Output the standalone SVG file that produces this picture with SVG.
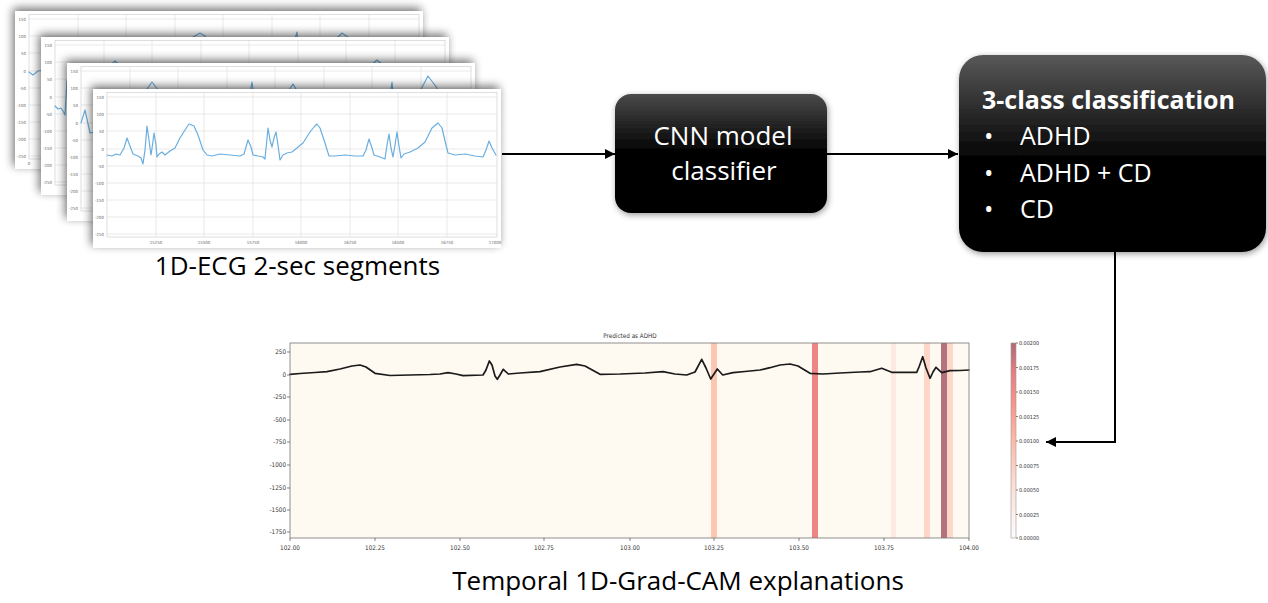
<svg xmlns="http://www.w3.org/2000/svg" xmlns:xlink="http://www.w3.org/1999/xlink" width="1268" height="603" viewBox="0 0 1268 603">
<style>
.cap{font-family:"Open Sans","Liberation Sans",sans-serif;font-size:26px;fill:#000}
.wt{font-family:"Open Sans","Liberation Sans",sans-serif;font-size:25px;fill:#fff}
.wtc{font-family:"Open Sans","Liberation Sans",sans-serif;font-size:26px;fill:#fff;text-anchor:middle}
.tiny{font-family:"DejaVu Sans Condensed","DejaVu Sans","Liberation Sans",sans-serif;font-size:4.3px;fill:#666}
.tinyr{font-family:"DejaVu Sans Condensed","DejaVu Sans","Liberation Sans",sans-serif;font-size:4.3px;fill:#666;text-anchor:end}
.mpl{font-family:"DejaVu Sans Condensed","DejaVu Sans","Liberation Sans",sans-serif;font-size:6.3px;fill:#333}
.mplr{font-family:"DejaVu Sans Condensed","DejaVu Sans","Liberation Sans",sans-serif;font-size:6.3px;fill:#333;text-anchor:end}
.mplc{font-family:"DejaVu Sans Condensed","DejaVu Sans","Liberation Sans",sans-serif;font-size:6.3px;fill:#333;text-anchor:middle}
.cb{font-family:"DejaVu Sans Condensed","DejaVu Sans","Liberation Sans",sans-serif;font-size:5.4px;fill:#333}
.card{fill:#fff;filter:url(#cshadow)}
.grid{stroke:#e3e3e3;stroke-width:0.8;fill:none}
.frame{stroke:#d6d6d6;stroke-width:0.8;fill:none}
.ecgb{fill:none;stroke:#6aaee0;stroke-width:1.2;stroke-linejoin:round;stroke-linecap:round}
.ecgk{fill:none;stroke:#1a1a1a;stroke-width:1.7;stroke-linejoin:round;stroke-linecap:round}
.conn{fill:none;stroke:#000;stroke-width:2}
.tick{stroke:#333;stroke-width:0.6}
</style>
<defs>
<filter id="cshadow" x="-10%" y="-15%" width="125%" height="135%">
<feGaussianBlur in="SourceAlpha" stdDeviation="5"/>
<feOffset dx="-2" dy="-3" result="b"/>
<feComponentTransfer><feFuncA type="linear" slope="0.55"/></feComponentTransfer>
<feMerge><feMergeNode/><feMergeNode in="SourceGraphic"/></feMerge>
</filter>
<filter id="bshadow" x="-10%" y="-10%" width="125%" height="125%">
<feGaussianBlur in="SourceAlpha" stdDeviation="3"/>
<feOffset dx="1" dy="2"/>
<feComponentTransfer><feFuncA type="linear" slope="0.4"/></feComponentTransfer>
<feMerge><feMergeNode/><feMergeNode in="SourceGraphic"/></feMerge>
</filter>
<linearGradient id="bg1" x1="0" y1="0" x2="0" y2="1">
<stop offset="0" stop-color="#4a4a4a"/>
<stop offset="0.5" stop-color="#000"/>
<stop offset="1" stop-color="#000"/>
</linearGradient>
<linearGradient id="bg2" x1="0" y1="0" x2="0" y2="1">
<stop offset="0" stop-color="#585858"/>
<stop offset="0.55" stop-color="#000"/>
<stop offset="1" stop-color="#000"/>
</linearGradient>
<linearGradient id="cbar" x1="0" y1="1" x2="0" y2="0">
<stop offset="0" stop-color="#fdfcfc"/>
<stop offset="0.25" stop-color="#fbe1d8"/>
<stop offset="0.5" stop-color="#fcbaa6"/>
<stop offset="0.7" stop-color="#f8928a"/>
<stop offset="0.85" stop-color="#e37f80"/>
<stop offset="1" stop-color="#b06a74"/>
</linearGradient>
<marker id="ah" viewBox="0 0 10 10" refX="10" refY="5" markerWidth="5" markerHeight="5" orient="auto" markerUnits="strokeWidth">
<path d="M0,0 L10,5 L0,10 z" fill="#000"/>
</marker>
<g id="cgrid">
<path class="grid" d="M14,8H404M14,25H404M14,42H404M14,60H404M14,77H404M14,94H404M14,111H404M14,128H404M14,145H404M63,3.5V148M111,3.5V148M160,3.5V148M208,3.5V148M257,3.5V148M305,3.5V148M354,3.5V148"/>
<rect class="frame" x="14" y="3.5" width="390" height="144.5"/>
<g class="tinyr">
<text x="11" y="9.5">150</text><text x="11" y="26.5">100</text><text x="11" y="43.5">50</text><text x="11" y="61.5">0</text><text x="11" y="78.5">-50</text><text x="11" y="95.5">-100</text><text x="11" y="112.5">-150</text><text x="11" y="129.5">-200</text><text x="11" y="146.5">-250</text>
</g>
</g>
</defs>
<rect width="1268" height="603" fill="#fff"/>

<g id="ecg-stack">
<g id="card1">
<rect class="card" x="15" y="11" width="408" height="158"/>
<use xlink:href="#cgrid" href="#cgrid" transform="translate(15,11)"/>
<text class="tiny" x="29" y="165" text-anchor="middle">0</text>
<path class="ecgb" d="M29,72 L33,75 L38,71 L45,70 L60,71 L75,70 L90,72 L100,60 L104,78 L108,40 L112,74 L130,70 L150,60 L175,42 L185,42 L195,36 L200,33 L205,36 L215,70 L260,72 L285,70 L292,50 L297,32 L301,72 L320,68 L335,40 L342,33 L349,38 L360,70 L417,72"/>
</g>
<g id="card2">
<rect class="card" x="41" y="37" width="408" height="158"/>
<use xlink:href="#cgrid" href="#cgrid" transform="translate(41,37)"/>
<path class="ecgb" d="M55,106 L58,109 L61,108 L63,111 L65,115 L67,80 L70,110 L80,105 L100,90 L112,64 L115,61 L118,64 L125,100 L200,106 L240,104 L250,80 L255,106 L300,104 L340,95 L370,66 L377,60 L384,66 L395,104 L443,106"/>
</g>
<g id="card3">
<rect class="card" x="67" y="63" width="408" height="158"/>
<use xlink:href="#cgrid" href="#cgrid" transform="translate(67,63)"/>
<path class="ecgb" d="M81,123 L85,110 L90,133 L95,132 L110,128 L130,118 L145,92 L152,82 L158,90 L170,128 L230,130 L245,120 L252,82 L258,130 L270,125 L285,96 L293,84 L300,96 L315,130 L380,130 L388,110 L392,82 L396,130 L405,126 L418,95 L428,76 L437,88 L445,128 L470,130"/>
</g>
<g id="card4">
<rect class="card" x="93" y="89" width="408" height="159"/>
<use xlink:href="#cgrid" href="#cgrid" transform="translate(93,89)"/>
<g class="tiny" text-anchor="middle">
<text x="156" y="244">15250</text><text x="204" y="244">15500</text><text x="253" y="244">15750</text><text x="301" y="244">16000</text><text x="350" y="244">16250</text><text x="398" y="244">16500</text><text x="447" y="244">16750</text><text x="495" y="244">17000</text>
</g>
<path class="ecgb" d="M107,155 L112,156 L116,154 L120,155 L124,148 L127,138 L130,146 L133,154 L138,156 L141,158 L143,164 L145,150 L147,126 L149,140 L151,155 L152.5,145 L154,133 L156,145 L157,157 L159,154 L162,152 L165,155 L170,151 L175,148 L180,138 L185,130 L189,124 L194,126 L198,135 L203,150 L207,155 L212,156 L220,154 L230,155 L240,156 L244,154 L248,140 L251,147 L253,155 L258,156 L263,157 L265,159 L268,128 L270,140 L272,147 L274,138 L276,132 L278,145 L280,160 L283,155 L287,153 L292,152 L297,148 L303,143 L310,132 L314,127 L317,124 L320,128 L324,140 L329,156 L335,156 L345,155 L355,156 L363,156 L366,150 L369,139 L372,148 L374,155 L380,157 L385,159 L387,145 L389,134 L391,148 L393,157 L395,145 L397,132 L399,146 L401,158 L404,154 L410,152 L418,148 L425,142 L432,128 L438,123 L442,128 L446,145 L448,153 L455,155 L465,154 L475,156 L483,157 L486,150 L489,141 L492,148 L496,155"/>
</g>
<text class="cap" x="297.5" y="275" text-anchor="middle">1D-ECG 2-sec segments</text>
</g>

<g id="cnn">
<rect x="615" y="94" width="212" height="119" rx="16" fill="url(#bg1)" filter="url(#bshadow)"/>
<text class="wtc" x="723" y="145">CNN model</text>
<text class="wtc" x="724" y="180">classifier</text>
</g>

<g id="classes">
<rect x="959" y="55" width="307" height="197" rx="24" fill="url(#bg2)" filter="url(#bshadow)"/>
<text class="wt" x="982" y="109" font-weight="bold">3-class classification</text>
<text class="wt" x="984" y="145">•</text><text class="wt" x="1020" y="145">ADHD</text>
<text class="wt" x="984" y="182">•</text><text class="wt" x="1020" y="182">ADHD + CD</text>
<text class="wt" x="984" y="218">•</text><text class="wt" x="1020" y="218">CD</text>
</g>

<g id="gradcam">
<text class="mplc" x="630" y="338">Predicted as ADHD</text>
<rect x="290" y="343" width="679" height="195" fill="#fef9f1"/>
<rect x="711" y="343" width="6" height="195" fill="#fcc6b3"/>
<rect x="812" y="343" width="6" height="195" fill="#ee8585"/>
<rect x="891" y="343" width="5" height="195" fill="#fde9e1"/>
<rect x="924" y="343" width="6" height="195" fill="#fdd6c7"/>
<rect x="941" y="343" width="6" height="195" fill="#b3737c"/>
<rect x="947" y="343" width="6" height="195" fill="#fdd8ca"/>
<path class="ecgk" d="M290,374.3 L300,373.5 L315,372.5 L327,371.7 L340,369 L352,366 L360,365 L366,367 L375,373.3 L390,375.5 L410,375 L430,374.5 L440,374 L448,372.7 L456,374 L463,375.7 L483,375 L486,370 L489.3,361 L492,365 L495,376 L497.3,379.3 L500,375 L503.3,369.3 L508.3,374 L520,373 L540,371.7 L560,367 L576.7,364.3 L585,366 L600,374.3 L620,374 L645,373 L663,371.7 L675,374 L686.7,375 L695,372 L701.7,359.3 L706,368 L710.7,379 L714,374 L717.3,369 L722.7,375 L733,372.7 L745,371.5 L760,370 L770,367.7 L780,365 L790,364 L798,366 L810,373.3 L823,374 L840,373 L860,372 L870,371.7 L881.7,368.3 L891.7,372.3 L916.7,372.3 L919,367 L922.7,356.7 L926,368 L930,378.3 L933,372 L936,367.3 L941.7,372.7 L950,370.7 L960,370.5 L969,370"/>
<rect x="290" y="343" width="679" height="195" fill="none" stroke="#777" stroke-width="0.8"/>
<g class="tick">
<path d="M287,352H290M287,375H290M287,397H290M287,420H290M287,442H290M287,465H290M287,488H290M287,510H290M287,532H290"/>
<path d="M290,538V541M375,538V541M460,538V541M544,538V541M630,538V541M714,538V541M799,538V541M884,538V541M969,538V541"/>
</g>
<g class="mplr">
<text x="286" y="354">250</text><text x="286" y="377">0</text><text x="286" y="399">-250</text><text x="286" y="422">-500</text><text x="286" y="444">-750</text><text x="286" y="467">-1000</text><text x="286" y="490">-1250</text><text x="286" y="512">-1500</text><text x="286" y="534">-1750</text>
</g>
<g class="mplc">
<text x="290" y="550">102.00</text><text x="375" y="550">102.25</text><text x="460" y="550">102.50</text><text x="544" y="550">102.75</text><text x="630" y="550">103.00</text><text x="714" y="550">103.25</text><text x="799" y="550">103.50</text><text x="884" y="550">103.75</text><text x="969" y="550">104.00</text>
</g>
<rect x="1011" y="343" width="5" height="195" fill="url(#cbar)" stroke="#999" stroke-width="0.6"/>
<path class="tick" d="M1016,343H1018M1016,367.5H1018M1016,392H1018M1016,416.5H1018M1016,441H1018M1016,465.5H1018M1016,490H1018M1016,514.5H1018M1016,538H1018"/>
<g class="cb">
<text x="1019" y="345">0.00200</text><text x="1019" y="369.5">0.00175</text><text x="1019" y="394">0.00150</text><text x="1019" y="418.5">0.00125</text><text x="1019" y="443">0.00100</text><text x="1019" y="467.5">0.00075</text><text x="1019" y="492">0.00050</text><text x="1019" y="516.5">0.00025</text><text x="1019" y="540">0.00000</text>
</g>
<text class="cap" x="678" y="590" text-anchor="middle">Temporal 1D-Grad-CAM explanations</text>
</g>

<g id="connectors">
<path class="conn" d="M502,154 H615" marker-end="url(#ah)"/>
<path class="conn" d="M827,154 H958" marker-end="url(#ah)"/>
<path class="conn" d="M1115,252 V442 H1046" marker-end="url(#ah)"/>
</g>
</svg>
